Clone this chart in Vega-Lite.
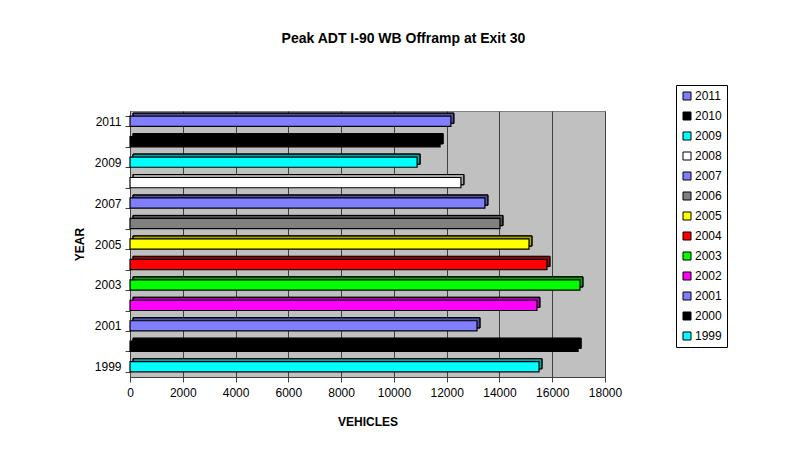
{
  "$schema": "https://vega.github.io/schema/vega-lite/v6.json",
  "width": 475,
  "height": 266,
  "autosize": "none",
  "padding": {"left": 130, "top": 111, "right": 182, "bottom": 79},
  "background": "white",
  "title": {
    "text": "Peak ADT I-90 WB Offramp at Exit 30",
    "font": "Liberation Sans",
    "fontSize": 14,
    "fontWeight": "bold",
    "color": "black",
    "anchor": "middle",
    "dx": 36,
    "offset": 39
  },
  "data": {
    "values": [
      {"year": "1999", "vehicles": 15500},
      {"year": "2000", "vehicles": 16980},
      {"year": "2001", "vehicles": 13150},
      {"year": "2002", "vehicles": 15420},
      {"year": "2003", "vehicles": 17050},
      {"year": "2004", "vehicles": 15800},
      {"year": "2005", "vehicles": 15120},
      {"year": "2006", "vehicles": 14020},
      {"year": "2007", "vehicles": 13450},
      {"year": "2008", "vehicles": 12540},
      {"year": "2009", "vehicles": 10880},
      {"year": "2010", "vehicles": 11750},
      {"year": "2011", "vehicles": 12160}
    ]
  },
  "config": {
    "view": {"fill": "#C0C0C0", "stroke": "#808080", "strokeWidth": 1},
    "font": "Liberation Sans",
    "axis": {
      "labelFont": "Liberation Sans",
      "titleFont": "Liberation Sans",
      "labelColor": "black",
      "titleColor": "black",
      "domainColor": "#404040",
      "tickColor": "#404040"
    }
  },
  "encoding": {
    "y": {
      "field": "year",
      "type": "ordinal",
      "sort": "descending",
      "scale": {"paddingInner": 0.5, "paddingOuter": 0.25},
      "axis": {
        "title": "YEAR",
        "titleFontSize": 12,
        "titleFontWeight": "bold",
        "titlePadding": 8,
        "labelFontSize": 12,
        "labelPadding": 4,
        "tickBand": "extent",
        "tickSize": 5,
        "labelExpr": "toNumber(datum.value) % 2 == 1 ? datum.label : ''"
      }
    },
    "x": {
      "field": "vehicles",
      "type": "quantitative",
      "scale": {"domain": [0, 18000], "nice": false},
      "axis": {
        "title": "VEHICLES",
        "titleFontSize": 12,
        "titleFontWeight": "bold",
        "titlePadding": 18,
        "labelFontSize": 12,
        "labelPadding": 5,
        "labelOverlap": false,
        "labelFlush": false,
        "values": [0, 2000, 4000, 6000, 8000, 10000, 12000, 14000, 16000, 18000],
        "format": "d",
        "grid": true,
        "gridColor": "#404040",
        "gridWidth": 1,
        "tickSize": 5
      }
    },
    "color": {
      "field": "year",
      "type": "nominal",
      "sort": "descending",
      "scale": {
        "domain": ["2011", "2010", "2009", "2008", "2007", "2006", "2005", "2004", "2003", "2002", "2001", "2000", "1999"],
        "range": ["#8080FF", "#000000", "#00FFFF", "#FFFFFF", "#8080FF", "#808080", "#FFFF00", "#FF0000", "#00FF00", "#FF00FF", "#8080FF", "#000000", "#00FFFF"]
      },
      "legend": {
        "title": null,
        "orient": "none",
        "legendX": 546,
        "legendY": -26,
        "symbolType": "square",
        "symbolSize": 64,
        "symbolStrokeColor": "black",
        "symbolStrokeWidth": 1,
        "symbolOpacity": 1,
        "labelFont": "Liberation Sans",
        "labelFontSize": 12,
        "labelColor": "black",
        "labelOffset": 2,
        "rowPadding": 8,
        "padding": 5,
        "strokeColor": "black",
        "fillColor": "white",
        "values": ["2011", "2010", "2009", "2008", "2007", "2006", "2005", "2004", "2003", "2002", "2001", "2000", "1999"]
      }
    }
  },
  "layer": [
    {
      "mark": {"type": "bar", "xOffset": 3, "yOffset": -3, "stroke": "black", "strokeWidth": 1, "opacity": 1}
    },
    {
      "mark": {"type": "bar", "xOffset": 3, "yOffset": -3, "fill": "black", "fillOpacity": 0.35, "stroke": "black", "strokeWidth": 1}
    },
    {
      "mark": {"type": "bar", "stroke": "black", "strokeWidth": 1.2, "opacity": 1}
    }
  ]
}
